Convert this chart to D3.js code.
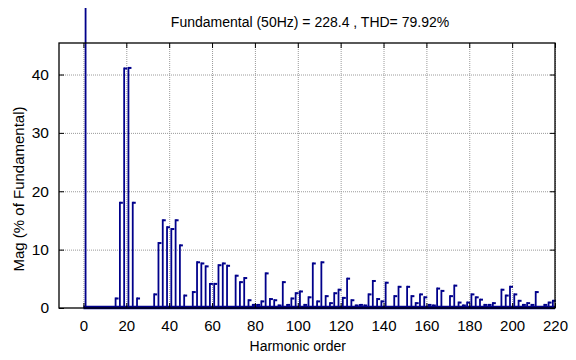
<!DOCTYPE html>
<html>
<head>
<meta charset="utf-8">
<script src="https://cdn.jsdelivr.net/npm/d3@7"></script>
<style>
  body { margin: 0; background: #fff; }
  text { font-family: "Liberation Sans", Arial, sans-serif; fill: #000; }
  .grid line { stroke: #9a9a9a; stroke-width: 1; stroke-dasharray: 1,1; }
  .grid path { display: none; }
</style>
</head>
<body>
<div id="chart"></div>
<script>
// harmonic orders and magnitudes (% of fundamental)
const orders = [1, 15, 17, 19, 21, 23, 25, 33, 35, 37, 39, 41, 43, 45, 47, 51, 53, 55, 57, 59, 61, 63, 65, 67,
  71, 73, 75, 77, 79, 81, 83, 85, 87, 89, 91, 93, 95, 97, 99, 101, 103, 105, 107, 109, 111, 113, 115, 117, 119,
  121, 123, 125, 127, 129, 131, 133, 135, 137, 139, 141, 145, 147, 151, 153, 155, 157, 159, 161, 163, 165, 167,
  171, 173, 175, 177, 179, 181, 183, 185, 187, 189, 191, 195, 197, 199, 201, 203, 205, 207, 209, 211, 215, 217, 219]
const mags = [100, 1.8, 18.2, 41.2, 41.3, 18.2, 1.8, 2.5, 11.3, 15.2, 14.0, 13.7, 15.2, 10.9, 2.3, 2.9, 8.0, 7.8, 7.3, 4.3, 4.3, 7.5, 7.8, 7.4,
  5.7, 4.6, 5.3, 1.5, 0.7, 0.7, 1.3, 6.1, 1.7, 1.5, 0.6, 4.6, 0.7, 1.8, 2.7, 3.0, 0.7, 2.0, 7.8, 1.3, 8.0, 2.2, 1.0, 2.7, 3.3,
  1.9, 5.2, 1.5, 0.6, 0.7, 0.6, 2.5, 4.8, 1.7, 1.3, 4.5, 2.2, 3.8, 3.8, 2.2, 1.0, 2.5, 2.0, 0.7, 0.6, 3.5, 3.1,
  2.2, 4.0, 1.1, 0.6, 1.1, 2.5, 2.0, 1.6, 0.7, 0.7, 1.0, 3.3, 2.3, 3.8, 2.5, 1.4, 0.7, 1.0, 0.7, 2.9, 0.7, 1.1, 1.4]
const xTicks = [0, 20, 40, 60, 80, 100, 120, 140, 160, 180, 200, 220]
const yTicks = [0, 10, 20, 30, 40]
const title = "Fundamental (50Hz) = 228.4 , THD= 79.92%"
const xLabel = "Harmonic order"
const yLabel = "Mag (% of Fundamental)"

const width = 576, height = 360
const margin = { top: 43, right: 21, bottom: 52, left: 59 }
const barColor = "#00008b"

const svg = d3.select("#chart").append("svg")
  .attr("width", width)
  .attr("height", height)

const x = d3.scaleLinear().domain([-11.4, 220]).range([margin.left, width - margin.right])
const y = d3.scaleLinear().domain([0, 45.4]).range([height - margin.bottom, margin.top])

const data = orders.map((o, i) => ({ order: o, mag: mags[i] }))

// grid
svg.append("g")
  .attr("class", "grid")
  .attr("transform", "translate(0," + y(0) + ")")
  .call(d3.axisBottom(x).tickValues(xTicks).tickSize(-(y(0) - margin.top)).tickFormat(""))

svg.append("g")
  .attr("class", "grid")
  .attr("transform", "translate(" + margin.left + ",0)")
  .call(d3.axisLeft(y).tickValues(yTicks.slice(1)).tickSize(-(x(220) - margin.left)).tickFormat(""))

svg.append("clipPath").attr("id", "clip")
  .append("rect").attr("x", 0).attr("y", 8).attr("width", width).attr("height", height - 8)

const bars = svg.append("g").attr("clip-path", "url(#clip)")

// baseline
bars.append("line")
  .attr("x1", x(0)).attr("x2", x(220))
  .attr("y1", y(0) - 0.5).attr("y2", y(0) - 0.5)
  .attr("stroke", barColor).attr("stroke-width", 3.5)

bars.selectAll(".stem")
  .data(data)
  .enter().append("line")
  .attr("class", "stem")
  .attr("x1", d => x(d.order)).attr("x2", d => x(d.order))
  .attr("y1", y(0)).attr("y2", d => y(d.mag))
  .attr("stroke", barColor).attr("stroke-width", 1.8)

bars.selectAll(".flag")
  .data(data)
  .enter().append("rect")
  .attr("class", "flag")
  .attr("x", d => x(d.order))
  .attr("y", d => y(d.mag))
  .attr("width", 3).attr("height", 2)
  .attr("fill", barColor)

// axes box
const axisColor = "#000"
svg.append("rect")
  .attr("x", margin.left).attr("y", margin.top)
  .attr("width", x(220) - margin.left).attr("height", y(0) - margin.top)
  .attr("fill", "none").attr("stroke", axisColor).attr("stroke-width", 1.3)

// inner ticks
svg.append("g")
  .attr("transform", "translate(0," + y(0) + ")")
  .call(d3.axisBottom(x).tickValues(xTicks).tickSizeInner(-5).tickSizeOuter(0).tickPadding(12).tickFormat(d3.format("d")))
  .call(g => g.select(".domain").remove())
  .call(g => g.selectAll("text").attr("font-size", 15).attr("font-family", "Liberation Sans, Arial, sans-serif"))

svg.append("g")
  .attr("transform", "translate(0," + margin.top + ")")
  .call(d3.axisTop(x).tickValues(xTicks).tickSizeInner(-5).tickSizeOuter(0).tickFormat(""))
  .call(g => g.select(".domain").remove())

svg.append("g")
  .attr("transform", "translate(" + margin.left + ",0)")
  .call(d3.axisLeft(y).tickValues(yTicks).tickSizeInner(-5).tickSizeOuter(0).tickPadding(10).tickFormat(d3.format("d")))
  .call(g => g.select(".domain").remove())
  .call(g => g.selectAll("text").attr("font-size", 15.5).attr("font-family", "Liberation Sans, Arial, sans-serif"))

svg.append("g")
  .attr("transform", "translate(" + x(220) + ",0)")
  .call(d3.axisRight(y).tickValues(yTicks).tickSizeInner(-5).tickSizeOuter(0).tickFormat(""))
  .call(g => g.select(".domain").remove())

// texts
svg.append("text")
  .attr("x", 310).attr("y", 27)
  .attr("text-anchor", "middle")
  .attr("font-size", 14)
  .text(title)

svg.append("text")
  .attr("x", x(100)).attr("y", 351)
  .attr("text-anchor", "middle")
  .attr("font-size", 14)
  .text(xLabel)

svg.append("text")
  .attr("transform", "translate(24,189) rotate(-90)")
  .attr("text-anchor", "middle")
  .attr("font-size", 15)
  .text(yLabel)
</script>
</body>
</html>
